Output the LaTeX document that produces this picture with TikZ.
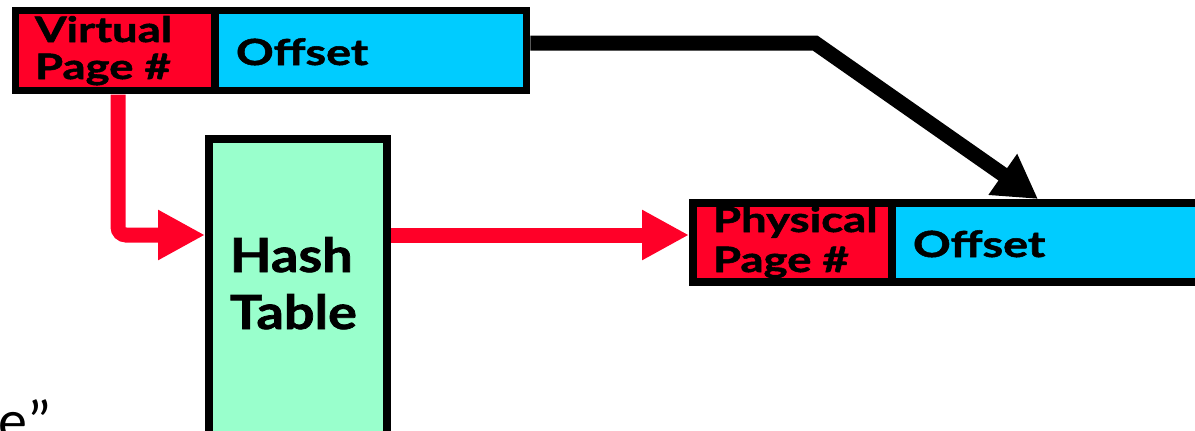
\documentclass[tikz,border=0pt]{standalone}
\usepackage{fontspec}
\setmainfont{Lato}
\newfontfamily\gs{Lato}[FakeStretch=1.3,FakeBold=1.5]
\newfontfamily\gsn{Lato}[FakeStretch=1.15,FakeBold=1.5]
\newfontfamily\carl{Carlito}
\usetikzlibrary{arrows.meta}
\definecolor{pgred}{RGB}{255,0,40}
\definecolor{offcyan}{RGB}{0,204,255}
\definecolor{hashgreen}{RGB}{153,255,204}
\begin{document}
\begin{tikzpicture}[x=1pt,y=-1pt,
  fld/.style={draw=none,inner sep=0pt,outer sep=0pt,anchor=north west},
  bord/.style={draw=black,line width=7.5pt},
  lbl/.style={inner sep=0pt,outer sep=0pt,align=left,anchor=base west},
  blk/.style={draw=black,line width=15pt,miter limit=4,-{Triangle[length=43pt,width=47pt]}},
  redarr/.style={draw=pgred,line width=15pt,-{Triangle[length=47pt,width=47pt]}}]
\useasboundingbox (0,0) rectangle (1195,431);
% fills
\node[fld,fill=pgred,minimum width=199.5pt,minimum height=80pt] (vpn) at (15.5,10.5) {};
\node[fld,fill=offcyan,minimum width=311.5pt,minimum height=80pt] (voff) at (215,10.5) {};
\node[fld,fill=pgred,minimum width=199pt,minimum height=79pt] (ppn) at (693,203) {};
\node[fld,fill=offcyan,minimum width=330pt,minimum height=79pt] (poff) at (892,203) {};
\node[fld,fill=hashgreen,minimum width=178pt,minimum height=330pt] (hash) at (209,139) {};
% texts (base anchor = baseline of last line)
\node[lbl,font=\gs\bfseries\fontsize{35}{37}\selectfont] (vtxt) at (35,79) {Virtual\\Page \#};
\node[lbl,font=\gs\bfseries\fontsize{36}{38}\selectfont] (votxt) at (236,65) {Offset};
\node[lbl,font=\gs\bfseries\fontsize{35}{40}\selectfont] (ptxt) at (713,272) {Physical\\Page \#};
\node[lbl,font=\gs\bfseries\fontsize{36}{38}\selectfont] (potxt) at (913,257) {Offset};
\node[lbl,font=\gsn\bfseries\fontsize{47}{57}\selectfont] (htxt) at (230,329) {Hash\\Table};
\node[inner sep=0pt,anchor=base east,font=\carl\fontsize{58}{60}\selectfont] (frag) at (52,440) {e”};
% borders
\draw[bord] (vpn.north west) rectangle (voff.south east);
\draw[bord] (vpn.north east) -- (vpn.south east);
\draw[bord] (ppn.north west) rectangle (poff.south east);
\draw[bord] (ppn.north east) -- (ppn.south east);
\draw[bord] (hash.north west) rectangle (hash.south east);
% connectors
\coordinate (bend) at (815,43);
\coordinate (ptip) at (1038,199);
\coordinate (vdown) at (118,94.5);
\coordinate (hin) at (205,235);
\coordinate (hout) at (391,235);
\coordinate (pin) at (689,235);
\draw[blk] ([xshift=3.75pt]voff.east |- bend) -- (bend) -- (ptip);
\draw[redarr,rounded corners=8pt] (vdown) |- (hin);
\draw[redarr] (hout) -- (pin);
\end{tikzpicture}
\end{document}
